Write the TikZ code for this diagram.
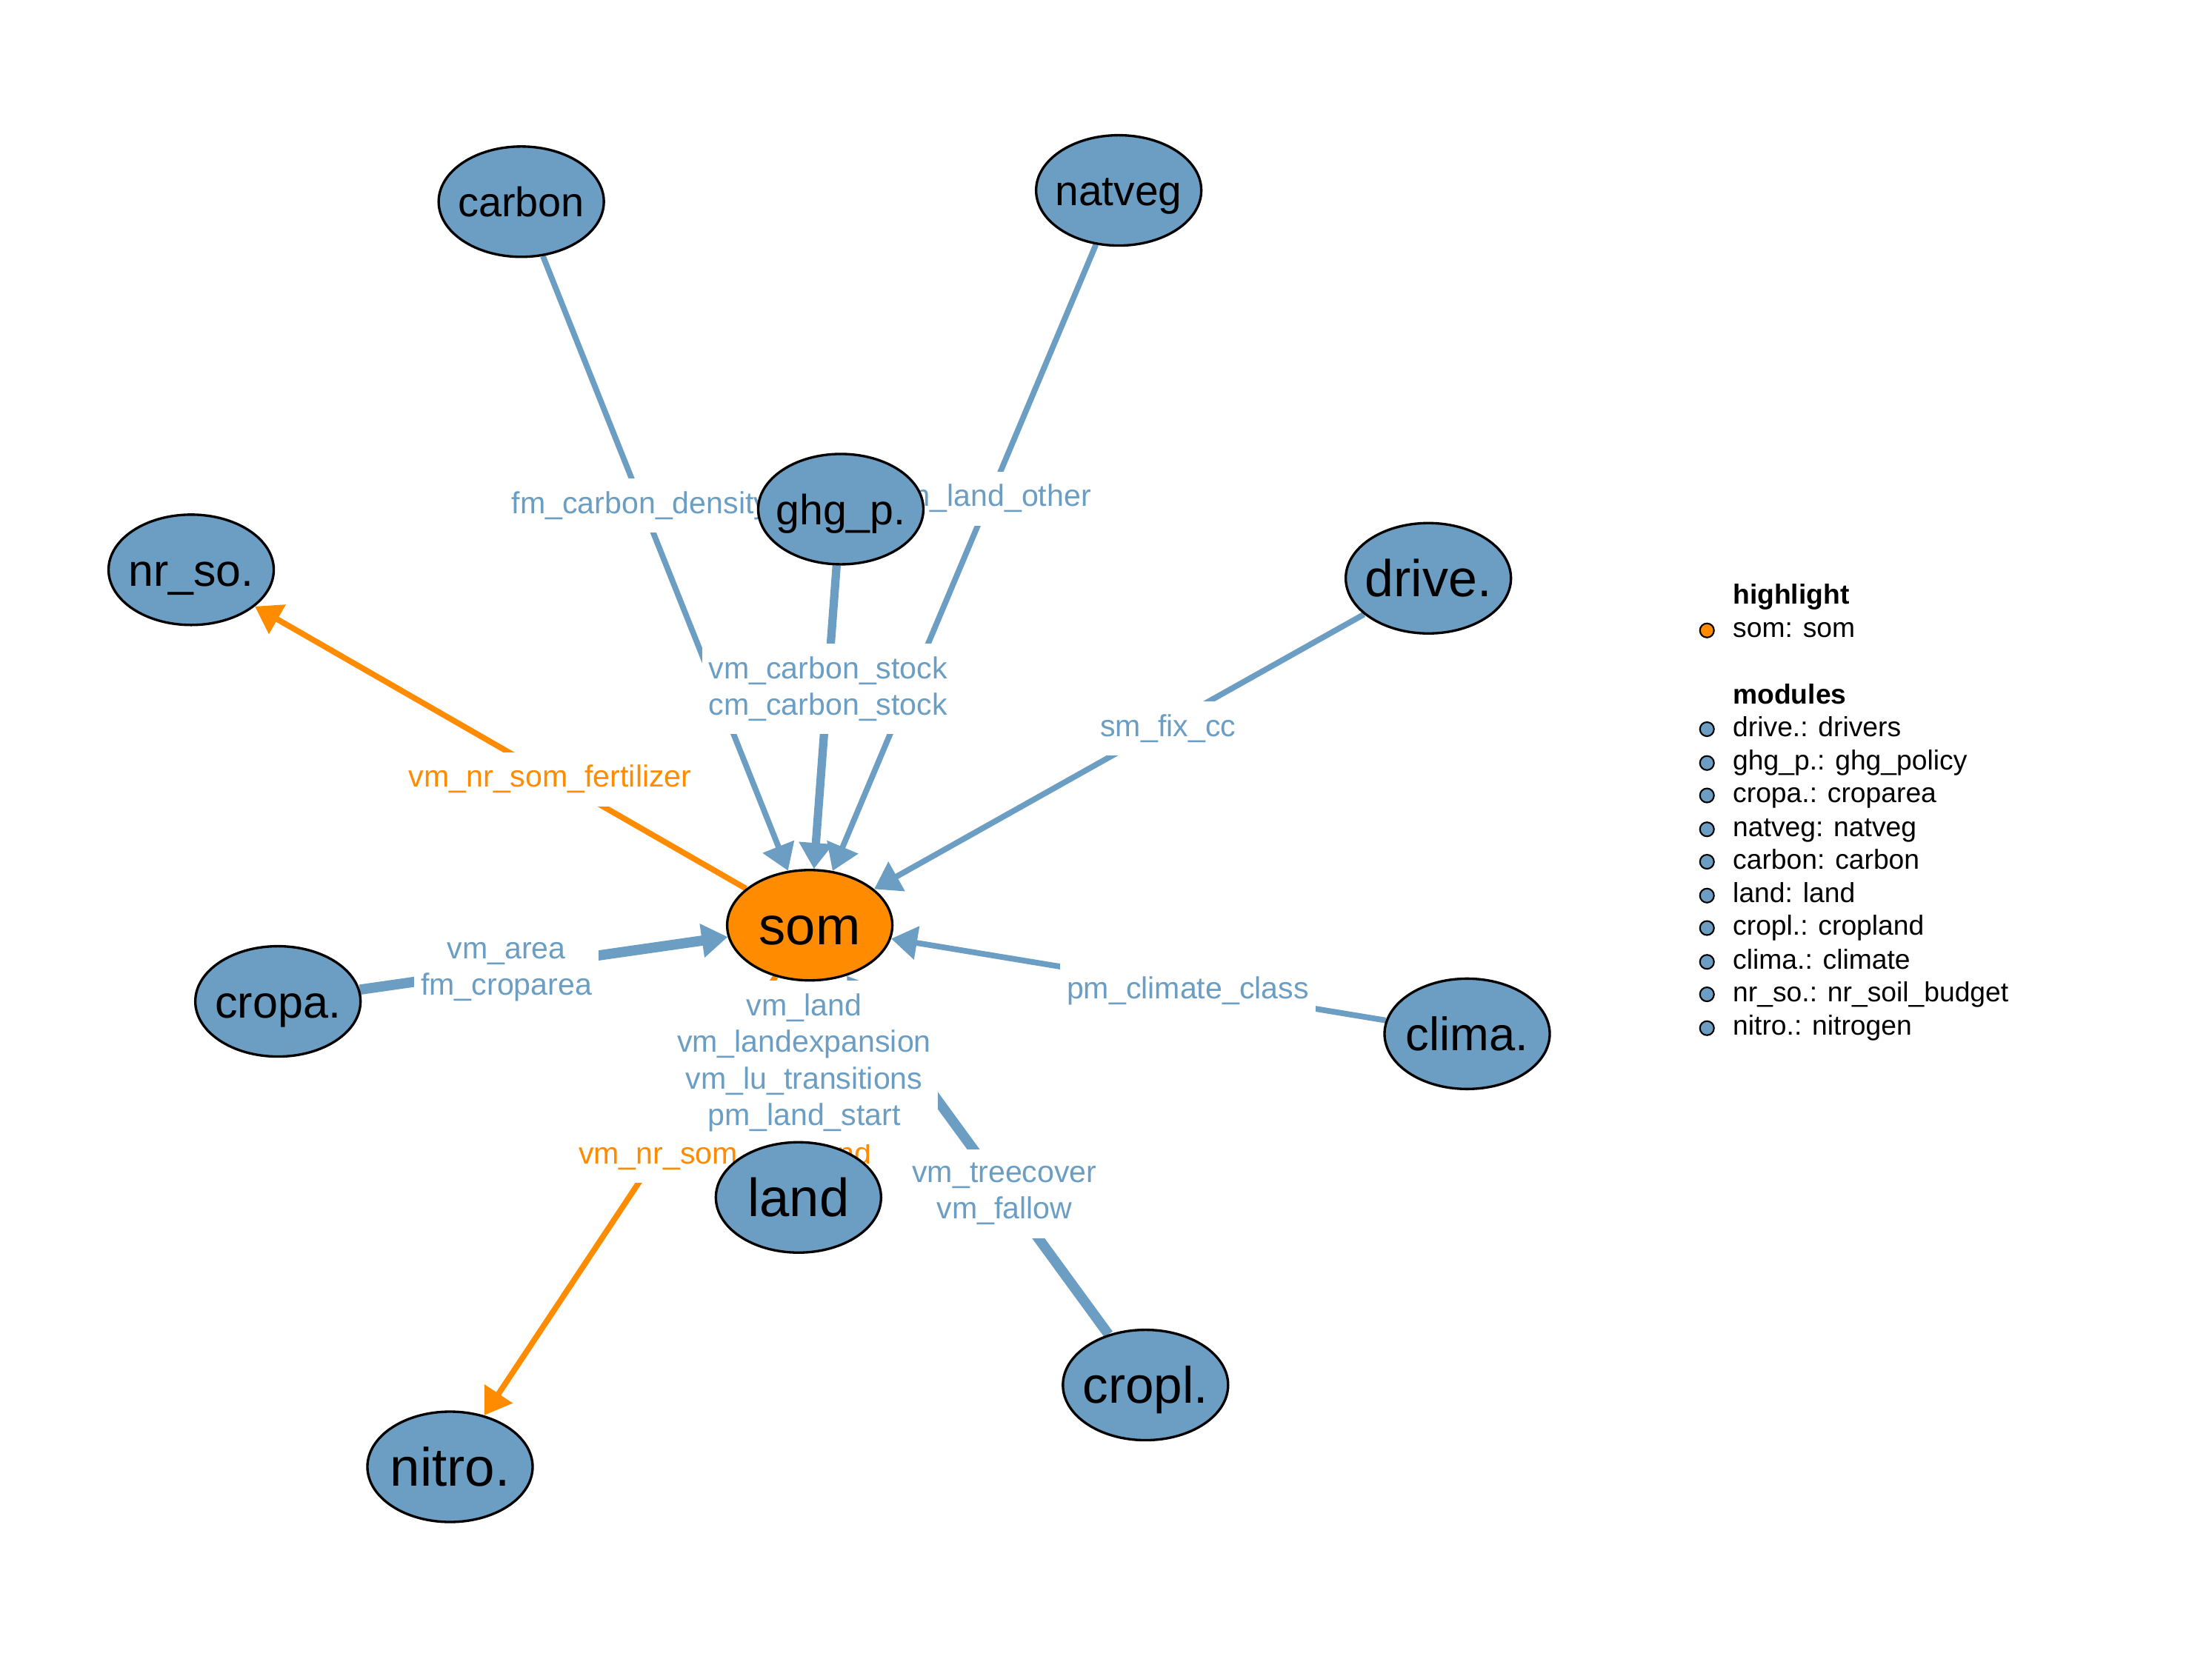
\documentclass[tikz,border=0pt]{standalone}
\usepackage{fontspec}
\setmainfont{Liberation Sans}
\usetikzlibrary{shapes.geometric,arrows.meta,backgrounds}

\definecolor{modblue}{RGB}{107,158,194}
\definecolor{hlorange}{RGB}{255,140,0}

% module name, centred on the cap height
\newcommand{\modname}[1]{\makebox[0pt]{\raisebox{-0.36em}[0pt][0pt]{#1}}}

\begin{document}
\begin{tikzpicture}[x=0.19043mm, y=-0.19043mm,
    module/.style={ellipse, draw=black, line width=0.95pt, fill=modblue, minimum width=2.23cm, minimum height=1.49cm, inner sep=0pt, font=\fontsize{#1}{#1}\selectfont},
    focus/.style={module=#1, fill=hlorange},
    link/.style={draw=modblue, line width=2.2pt, -{Triangle[length=0.35cm, width=0.44cm]}},
    hllink/.style={link, draw=hlorange},
    elabel/.style={fill=white, text=modblue, font=\fontsize{11.7}{14}\selectfont, align=center, inner xsep=2.5pt, inner ysep=5pt},
    hllabel/.style={elabel, text=hlorange},
    dot/.style={circle, draw=black, line width=0.6pt, fill=modblue, minimum size=0.19cm, inner sep=0pt},
    legtext/.style={anchor=west, inner sep=0pt, text height=7.6pt, text depth=2.2pt, font=\fontsize{10.6}{12.7}\selectfont},
    leghead/.style={legtext, font=\fontsize{10.6}{12.7}\selectfont\bfseries}
]
    % Modules
    \node[module=15.9] (carbon) at (369.5,143) {\modname{carbon}};
    \node[module=16.2] (natveg) at (793,135) {\modname{natveg}};
    \node[module=16.3] (ghgp) at (596,361) {\modname{ghg\_p.}};
    \node[module=17.3] (nrso) at (135.5,404) {\modname{nr\_so.}};
    \node[module=19.9] (drive) at (1012.5,410) {\modname{drive.}};
    \node[focus=20.6] (som) at (574,656) {\modname{som}};
    \node[module=17.4] (cropa) at (197,710) {\modname{cropa.}};
    \node[module=18] (clima) at (1040,733) {\modname{clima.}};
    \node[module=20.6] (land) at (566,849) {\modname{land}};
    \node[module=19.7] (cropl) at (812,982) {\modname{cropl.}};
    \node[module=20.7] (nitro) at (319,1040) {\modname{nitro.}};

    \begin{scope}[on background layer]
        \fill[white] (0,0) rectangle (1568,1176);

        % Links into som
        \draw[link] (carbon) -- (som);
        \draw[link] (natveg) -- (som);
        \draw[link, line width=3.2pt] (ghgp) -- (som);
        \draw[link] (drive) -- (som);
        \draw[link, line width=3.9pt] (cropa) -- (som);
        \draw[link] (clima) -- (som);
        \draw[link] (land) -- (som);
        \draw[link, line width=3.9pt] (cropl) -- (som);
        % Links out of som
        \draw[hllink] (som) -- (nrso);
        \draw[hllink] (som) -- (nitro);

        % Link labels
        \node[elabel] (l-carbon) at (454,358.5) {fm\_carbon\_density};
        \node[elabel] (l-natveg) at (702,353.5) {vm\_land\_other};
        \node[elabel] (l-ghgp) at (587,488.5) {vm\_carbon\_stock\\cm\_carbon\_stock};
        \node[elabel] (l-drive) at (828,516.5) {sm\_fix\_cc};
        \node[hllabel] (l-nrso) at (390,552.5) {vm\_nr\_som\_fertilizer};
        \node[elabel] (l-cropa) at (359,689) {vm\_area\\fm\_croparea};
        \node[elabel] (l-clima) at (842,702.5) {pm\_climate\_class};
        \node[hllabel] (l-nitro) at (514,819.5) {vm\_nr\_som\_cropland};
        \node[elabel] (l-land) at (570,753.5) {vm\_land\\vm\_landexpansion\\vm\_lu\_transitions\\pm\_land\_start};
        \node[elabel] (l-cropl) at (712,846.5) {vm\_treecover\\vm\_fallow};
    \end{scope}

    % Legend
    \node[leghead] (leg-highlight) at (1228,423) {highlight};
    \node[dot, fill=hlorange] (dot-som) at (1210,447) {};
    \node[legtext] (leg-som) at (1228,447) {som: som};
    \node[leghead] (leg-modules) at (1228,494) {modules};
    \node[dot] (dot-drive) at (1210,517) {};
    \node[legtext] (leg-drive) at (1228,517) {drive.: drivers};
    \node[dot] (dot-ghgp) at (1210,541) {};
    \node[legtext] (leg-ghgp) at (1228,541) {ghg\_p.: ghg\_policy};
    \node[dot] (dot-cropa) at (1210,564) {};
    \node[legtext] (leg-cropa) at (1228,564) {cropa.: croparea};
    \node[dot] (dot-natveg) at (1210,588) {};
    \node[legtext] (leg-natveg) at (1228,588) {natveg: natveg};
    \node[dot] (dot-carbon) at (1210,611) {};
    \node[legtext] (leg-carbon) at (1228,611) {carbon: carbon};
    \node[dot] (dot-land) at (1210,635) {};
    \node[legtext] (leg-land) at (1228,635) {land: land};
    \node[dot] (dot-cropl) at (1210,658) {};
    \node[legtext] (leg-cropl) at (1228,658) {cropl.: cropland};
    \node[dot] (dot-clima) at (1210,682) {};
    \node[legtext] (leg-clima) at (1228,682) {clima.: climate};
    \node[dot] (dot-nrso) at (1210,705) {};
    \node[legtext] (leg-nrso) at (1228,705) {nr\_so.: nr\_soil\_budget};
    \node[dot] (dot-nitro) at (1210,729) {};
    \node[legtext] (leg-nitro) at (1228,729) {nitro.: nitrogen};

    \useasboundingbox (0,0) rectangle (1568,1176);
\end{tikzpicture}
\end{document}
